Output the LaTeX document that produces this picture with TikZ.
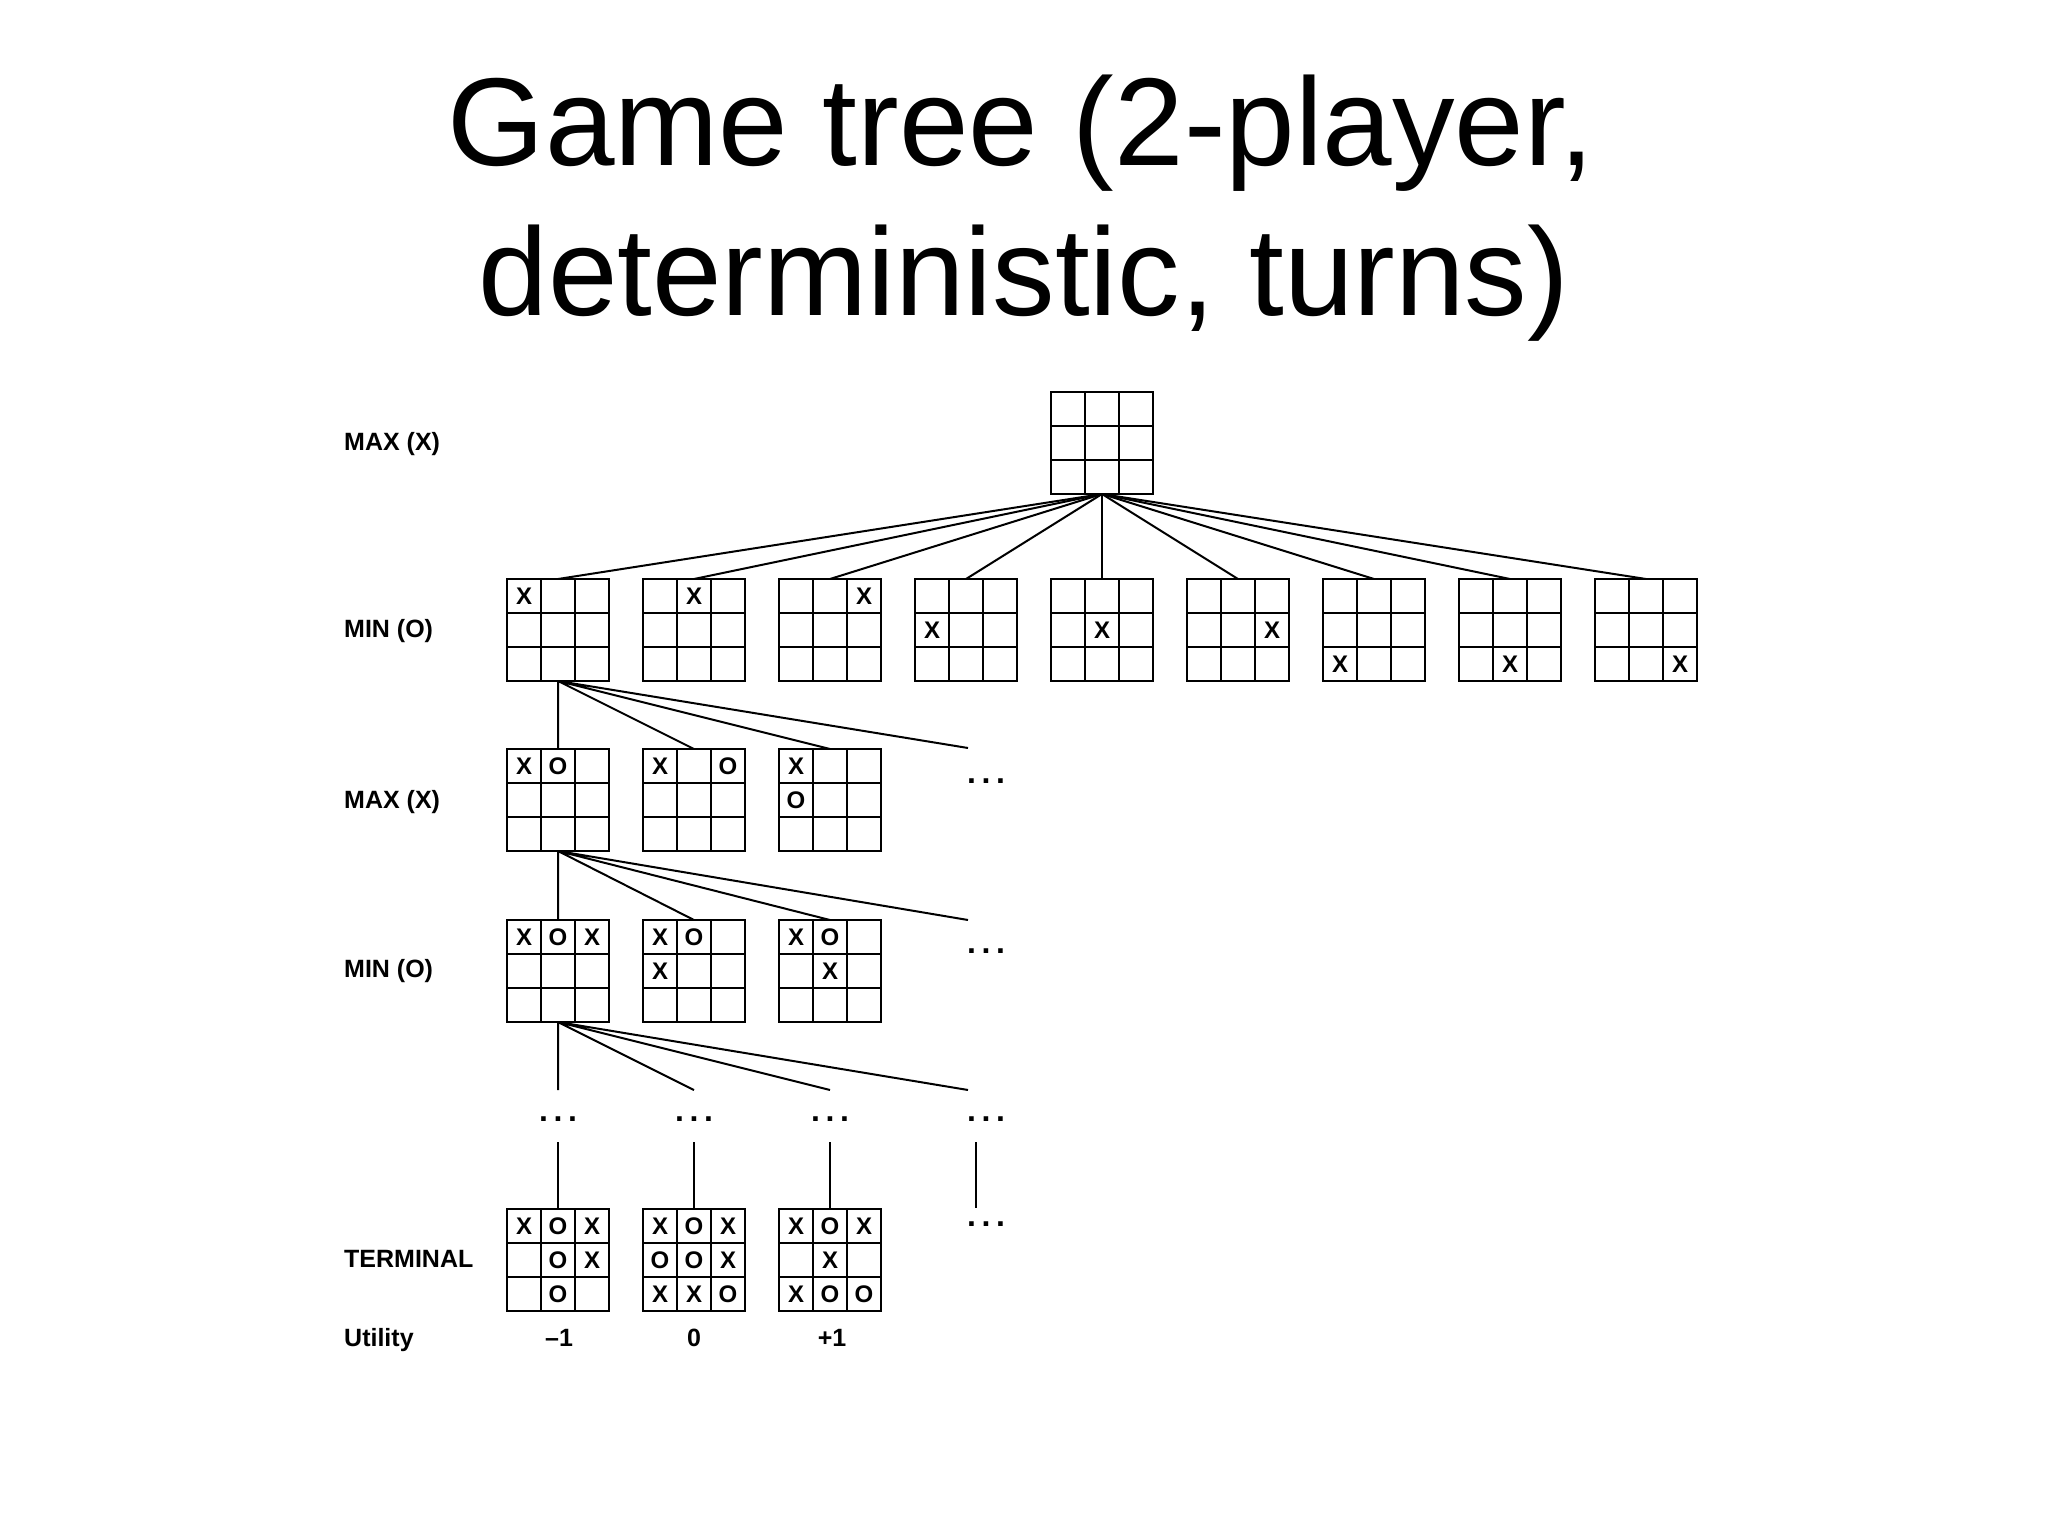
\documentclass[tikz,border=0pt]{standalone}
\usepackage{fontspec}
\setmainfont{Liberation Sans}
\usetikzlibrary{calc}
\tikzset{
 bd/.style={draw, line width=2pt, rectangle, minimum size=102pt, inner sep=0pt, outer sep=0pt},
 gl/.style={line width=2pt},
 mk/.style={font=\fontsize{24}{24}\selectfont\bfseries, inner sep=0pt},
 lbl/.style={font=\fontsize{25}{25}\selectfont\bfseries, anchor=base west, inner sep=0pt},
 util/.style={font=\fontsize{25}{25}\selectfont\bfseries, anchor=base, inner sep=0pt},
 dts/.style={font=\fontsize{32}{32}\selectfont\bfseries, anchor=base, inner sep=0pt},
 edge/.style={line width=2pt},
 ttl/.style={font=\fontsize{125}{150}\selectfont, anchor=base, inner sep=0pt},
}
\newcommand\gboard[2]{%
 \node[bd] (#1) at (#2) {};
 \draw[gl] ($(#1.north west)+(34,0)$) -- ($(#1.south west)+(34,0)$)
   ($(#1.north west)+(68,0)$) -- ($(#1.south west)+(68,0)$)
   ($(#1.north west)+(0,34)$) -- ($(#1.north east)+(0,34)$)
   ($(#1.north west)+(0,68)$) -- ($(#1.north east)+(0,68)$);}
\newcommand\gmarks[2]{%
 \foreach \rr/\cc/\mm in {#2} {\node[mk] at ($(#1.center)+({(\cc-2)*34},{(\rr-2)*34})$) {\mm};}}
\newcommand\dd{.\hspace{5.6pt}.\hspace{5.6pt}.}
\begin{document}
\begin{tikzpicture}[x=1pt,y=-1pt]
\useasboundingbox (0,0) rectangle (2048,1536);
% title
\node[ttl] (title1) at (1021,165) {Game tree (2-player,};
\node[ttl] (title2) at (1024,315) {deterministic, turns)};
% level labels
\node[lbl] (l1) at (344,450) {MAX (X)};
\node[lbl] (l2) at (344,637) {MIN (O)};
\node[lbl] (l3) at (344,808) {MAX (X)};
\node[lbl] (l4) at (344,977) {MIN (O)};
\node[lbl] (l5) at (344,1267) {TERMINAL};
\node[lbl] (l6) at (344,1346) {Utility};
% root
\gboard{root}{1102,443}
% MIN row
\foreach \i in {1,...,9} {
  \pgfmathtruncatemacro\rowi{int((\i-1)/3)+1}
  \pgfmathtruncatemacro\coli{mod(\i-1,3)+1}
  \pgfmathsetmacro\xi{558+136*(\i-1)}
  \gboard{m\i}{\xi,630}
  \node[mk] (mx\i) at ($(m\i.center)+({(\coli-2)*34},{(\rowi-2)*34})$) {X};
}
% level 3
\gboard{a1}{558,800} \gmarks{a1}{1/1/X,1/2/O}
\gboard{a2}{694,800} \gmarks{a2}{1/1/X,1/3/O}
\gboard{a3}{830,800} \gmarks{a3}{1/1/X,2/1/O}
% level 4
\gboard{b1}{558,971} \gmarks{b1}{1/1/X,1/2/O,1/3/X}
\gboard{b2}{694,971} \gmarks{b2}{1/1/X,1/2/O,2/1/X}
\gboard{b3}{830,971} \gmarks{b3}{1/1/X,1/2/O,2/2/X}
% terminal
\gboard{t1}{558,1260} \gmarks{t1}{1/1/X,1/2/O,1/3/X,2/2/O,2/3/X,3/2/O}
\gboard{t2}{694,1260} \gmarks{t2}{1/1/X,1/2/O,1/3/X,2/1/O,2/2/O,2/3/X,3/1/X,3/2/X,3/3/O}
\gboard{t3}{830,1260} \gmarks{t3}{1/1/X,1/2/O,1/3/X,2/2/X,3/1/X,3/2/O,3/3/O}
% utilities
\node[util] (u1) at (559,1346) {--1};
\node[util] (u2) at (694,1346) {0};
\node[util] (u3) at (832,1346) {+1};
% free ends
\coordinate (ae) at (968,748);
\coordinate (be) at (968,920);
\coordinate (c1) at (558,1090);
\coordinate (c2) at (694,1090);
\coordinate (c3) at (830,1090);
\coordinate (c4) at (968,1090);
\coordinate (d1) at (558,1142);
\coordinate (d2) at (694,1142);
\coordinate (d3) at (830,1142);
\coordinate (d4) at (976,1142);
\coordinate (d5) at (976,1208);
% dots
\node[dts] (dotA) at (986,783) {\dd};
\node[dts] (dotB) at (986,953) {\dd};
\node[dts] (dot1) at (558,1121) {\dd};
\node[dts] (dot2) at (694,1121) {\dd};
\node[dts] (dot3) at (830,1121) {\dd};
\node[dts] (dot4) at (986,1121) {\dd};
\node[dts] (dotT) at (986,1226) {\dd};
% connectors
\foreach \i in {1,...,9} {\draw[edge] (root.south) -- (m\i.north);}
\draw[edge] (m1.south) -- (a1.north) (m1.south) -- (a2.north) (m1.south) -- (a3.north) (m1.south) -- (ae);
\draw[edge] (a1.south) -- (b1.north) (a1.south) -- (b2.north) (a1.south) -- (b3.north) (a1.south) -- (be);
\draw[edge] (b1.south) -- (c1) (b1.south) -- (c2) (b1.south) -- (c3) (b1.south) -- (c4);
\draw[edge] (d1) -- (t1.north) (d2) -- (t2.north) (d3) -- (t3.north) (d4) -- (d5);
\end{tikzpicture}
\end{document}
